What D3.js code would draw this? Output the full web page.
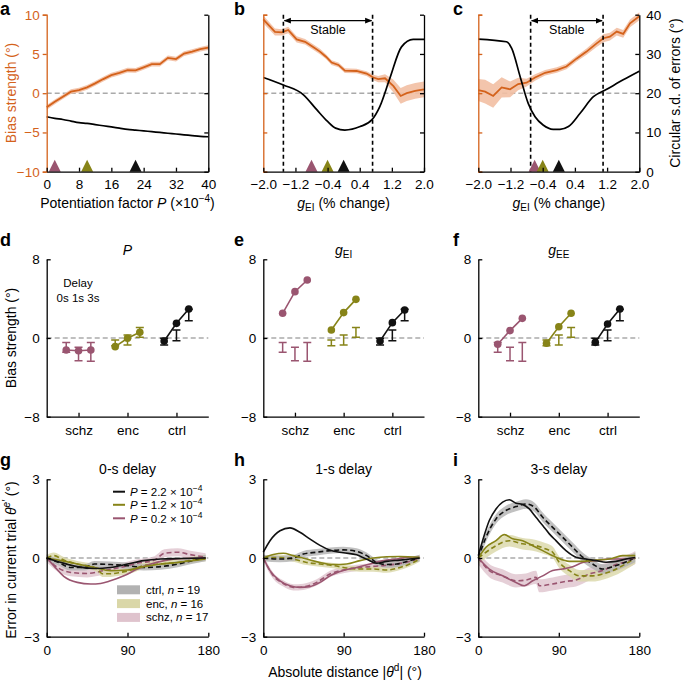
<!DOCTYPE html>
<html><head><meta charset="utf-8">
<script src="https://cdn.jsdelivr.net/npm/d3@7"></script>
<style>body{margin:0;background:#fff}svg{display:block}</style>
</head><body>
<svg id="fig" width="685" height="680"></svg>
<script>
// ================= DATA =================
// Panel a: bias strength & circular s.d. vs potentiation factor P (x10^-4)
const aP    = [0,2,4,6,8,10,12,14,16,18,20,22,24,26,28,30,32,34,36,38,40];
const aBias = [-1.8,-1.1,-0.45,0.2,0.4,0.75,1.25,1.8,2.3,2.6,2.95,2.9,3.3,3.7,3.7,4.5,4.35,5.05,5.3,5.6,5.8];
const aSem  = [0.3,0.3,0.3,0.3,0.3,0.3,0.3,0.3,0.3,0.3,0.3,0.3,0.3,0.3,0.3,0.3,0.3,0.3,0.3,0.3,0.3];
const aSd   = [14,13.6,13.3,12.9,12.5,12.3,12.0,11.7,11.4,11.1,10.8,10.6,10.4,10.2,10.0,9.8,9.6,9.4,9.2,9.0,8.9];
const aTri  = [2,10,22];
const aTicks = [0,8,16,24,32,40];

// Panel b: vs gEI (% change)
const bG    = [-2.0,-1.71,-1.54,-1.38,-1.17,-0.96,-0.76,-0.59,-0.44,-0.30,-0.13,0.03,0.32,0.57,0.74,0.86,1.03,1.24,1.42,1.57,1.78,2.0];
const bBias = [9.4,7.8,7.75,8.05,6.85,6.55,5.9,5.3,4.65,3.9,3.6,2.87,2.83,2.5,2.0,1.8,1.9,0.9,-0.35,0.0,0.3,0.5];
const bSem  = [0.5,0.45,0.4,0.4,0.4,0.35,0.35,0.35,0.3,0.3,0.3,0.3,0.3,0.3,0.35,0.4,0.5,0.8,1.0,1.0,1.0,1.0];
const bSdG  = [-2.0,-1.5,-1.0,-0.67,-0.4,-0.2,0.03,0.41,0.70,0.90,1.15,1.44,1.73,2.0];
const bSd   = [24,22.1,19.6,15.8,12.8,11.1,10.6,11.5,13.2,16.6,23.8,31.8,33.7,33.7];
const bTri  = [-0.8,-0.4,0];
const bStable = [-1.5,0.72];

// Panel c: vs gEI (% change)
const cG    = [-2.0,-1.83,-1.63,-1.42,-1.21,-1.01,-0.80,-0.59,-0.34,-0.05,0.19,0.44,0.69,0.94,1.11,1.27,1.44,1.60,1.77,2.0];
const cBias = [0.4,0.2,-0.35,0.74,0.5,1.17,1.34,2.0,2.6,2.95,3.4,4.4,5.3,6.35,7.0,7.2,7.85,7.55,8.9,9.8];
const cSem  = [1.4,1.5,1.5,1.3,1.0,0.8,0.5,0.4,0.35,0.35,0.35,0.35,0.4,0.45,0.5,0.5,0.5,0.5,0.5,0.5];
const cSdG  = [-2.0,-1.30,-1.17,-0.96,-0.76,-0.59,-0.39,-0.14,0.03,0.24,0.53,0.86,1.19,1.60,2.0];
const cSd   = [33.8,33.1,31.4,24.2,17.4,14,11.9,10.8,10.8,11.5,14.9,19.1,21,23.4,25.6];
const cTri  = [-0.6,-0.4,0];
const cStable = [-0.7,1.1];
const gTicks = [-2.0,-1.2,-0.4,0.4,1.2,2.0];

// Panels d-f: bias strength per group and delay
const groups = ["schz","enc","ctrl"];
const delays = ["0s","1s","3s"];
const dataLo = [[-1.46,-2.3,-2.37],[-0.8,-0.71,0.07],[-0.71,-0.27,1.76]];
const dataHi = [[-0.47,-0.95,-0.47],[-0.2,0.31,1.08],[-0.03,0.81,2.92]];
const modelP   = [[-1.22,-1.29,-1.22],[-0.88,-0.03,0.58],[-0.3,1.49,2.95]];
const modelGEI = [[2.51,4.71,5.9],[0.81,2.58,3.93],[-0.3,1.56,2.85]];
const modelGEE = [[-0.64,0.75,2.0],[-0.54,1.15,2.51],[-0.44,1.42,2.95]];

// Panels g-i: error in current trial vs absolute distance ([deg, error])
const g0CtrlModel = [[0,0],[16,-0.17],[34,-0.33],[53,-0.4],[71,-0.36],[90,-0.23],[108,-0.1],[127,-0.04],[150,-0.02],[177,0]];
const g0CtrlData  = [[0,0],[12,-0.15],[27,-0.36],[42,-0.36],[53,-0.23],[71,-0.25],[90,-0.29],[108,-0.36],[127,-0.33],[146,-0.23],[160,-0.12],[177,0]];
const g0EncModel  = [[0,0],[16,-0.1],[34,-0.23],[53,-0.36],[71,-0.48],[90,-0.46],[108,-0.33],[127,-0.23],[146,-0.17],[177,-0.04]];
const g0EncData   = [[0,0],[8,0.09],[19,-0.08],[34,-0.23],[53,-0.36],[58,-0.48],[62,-0.6],[71,-0.6],[82,-0.55],[94,-0.46],[108,-0.29],[123,-0.23],[146,-0.17],[160,-0.08],[177,0]];
const g0SchzModel = [[0,0],[8,-0.3],[19,-0.7],[34,-0.93],[49,-0.99],[60,-0.97],[71,-0.87],[86,-0.68],[101,-0.42],[116,-0.23],[131,-0.1],[153,-0.02],[177,0]];
const g0SchzData  = [[0,0],[12,-0.36],[27,-0.55],[45,-0.59],[64,-0.48],[82,-0.36],[101,-0.2],[120,-0.08],[131,0.18],[146,0.22],[160,0.13],[177,0.03]];
const g0Sem = [0.12,0.12,0.15];

const g1CtrlModel = [[0,0.22],[7.5,0.66],[18.7,1.04],[29.9,1.15],[41,0.98],[52,0.73],[63.5,0.48],[74.7,0.3],[89.6,0.2],[104.6,0.12],[115.8,-0.05],[127,-0.2],[138,-0.13],[153,-0.08],[164,-0.04],[175,0]];
const g1CtrlData  = [[0,0],[18.7,-0.04],[33.6,0],[44.8,0.15],[59.8,0.22],[74.7,0.28],[89.6,0.31],[104.6,0.25],[115.8,0.09],[127,-0.17],[138,-0.25],[149.4,-0.23],[160.5,-0.13],[175,0]];
const g1EncModel  = [[0,0],[11.2,0.13],[22.4,0.18],[33.6,0.09],[48.5,-0.04],[63.5,-0.17],[78.4,-0.25],[93.4,-0.23],[108.3,-0.1],[123.2,0],[138.2,0.05],[153.1,0.06],[175,0.03]];
const g1EncData   = [[0,0],[18.7,0.02],[33.6,-0.04],[48.5,-0.17],[63.5,-0.23],[78.4,-0.29],[93.4,-0.38],[108.3,-0.42],[123.2,-0.42],[138.2,-0.46],[153.1,-0.36],[168,-0.17],[175,-0.04]];
const g1SchzModel = [[0,0],[7.5,-0.48],[18.7,-0.87],[29.9,-1.06],[41,-1.12],[52,-1.09],[63.5,-0.93],[74.7,-0.68],[89.6,-0.48],[104.6,-0.36],[119.5,-0.23],[134.5,-0.1],[149.4,-0.04],[160.5,0.02],[175,0.02]];
const g1SchzData  = [[0,0],[11.2,-0.68],[22.4,-0.97],[33.6,-1.12],[44.8,-1.1],[59.8,-0.93],[74.7,-0.61],[89.6,-0.46],[104.6,-0.38],[119.5,-0.33],[134.5,-0.29],[149.4,-0.23],[160.5,-0.16],[175,0]];
const g1Sem = [0.12,0.1,0.12];

const g3CtrlModel = [[0,0.09],[4.8,0.66],[12.3,1.43],[19.8,1.87],[27.2,2.13],[34.7,2.22],[42.1,2.09],[49.6,2.04],[57,1.87],[64.5,1.55],[72,1.24],[79.4,0.92],[86.8,0.66],[98,0.28],[109.2,0.03],[120.4,-0.04],[131.6,-0.1],[142.8,-0.16],[153.9,-0.13],[165.1,-0.04],[175.5,0.02]];
const g3CtrlData  = [[0,0],[8.6,0.79],[19.8,1.49],[30.9,1.81],[42.1,1.96],[53.3,2.06],[62.6,1.94],[72,1.55],[83.1,1.17],[94.3,0.79],[105.5,0.41],[116.7,0.03],[127.8,-0.23],[139,-0.42],[150.2,-0.33],[161.4,-0.2],[175.5,0.02]];
const g3EncModel  = [[0,0],[8.6,0.41],[19.8,0.66],[29,0.89],[38.4,0.73],[49.6,0.66],[60.8,0.47],[72,0.28],[86.8,0.03],[101.8,-0.13],[116.7,-0.13],[131.6,-0.08],[146.5,-0.04],[161.4,0.09],[175.5,0.09]];
const g3EncData   = [[0,0],[8.6,0.22],[19.8,0.47],[34.7,0.66],[49.6,0.54],[64.5,0.47],[75.7,0.34],[83.1,0.22],[90.6,-0.17],[101.8,-0.48],[112.9,-0.68],[127.8,-0.68],[139,-0.61],[150.2,-0.48],[161.4,-0.29],[175.5,0]];
const g3SchzModel = [[0,0],[12.3,-0.42],[27.2,-0.68],[42.1,-0.93],[51.4,-1.06],[60.8,-0.87],[72,-0.68],[83.1,-0.48],[94.3,-0.42],[105.5,-0.33],[116.7,-0.17],[131.6,-0.1],[146.5,-0.04],[161.4,-0.04],[175.5,0]];
const g3SchzData  = [[0,0],[12.3,-0.48],[27.2,-0.68],[42.1,-0.87],[53.3,-0.84],[64.5,-0.74],[68.2,-1.06],[83.1,-0.99],[98,-0.89],[109.2,-0.84],[124.1,-0.61],[139,-0.48],[153.9,-0.25],[168.8,-0.1],[175.5,0.02]];
const g3Sem = [0.18,0.22,0.25];

const legendP = ["2.2","1.2","0.2"];
const legendN = [19,16,17];

// ================= STYLE / LAYOUT =================
const FONT = "'Liberation Sans', Arial, Helvetica, sans-serif";
const COL = {orange:"#d4621b", orangeBand:"#f2bfa3", pink:"#9a5570", olive:"#878418", black:"#111111", zero:"#aaaaaa"};
const GCOL = [COL.pink, COL.olive, COL.black];           // schz, enc, ctrl
const BCOL = ["#dfc3cd", "#dad7a8", "#b2b2b2"];
const cols = [[46.7,208.3],[263.3,424],[478.3,639.3]];
const rows = [[14.7,171.7],[259.3,416.7],[479.3,636.7]];
const FS = 13.5;

const svg = d3.select("#fig").attr("font-family", FONT);
svg.append("defs").append("marker").attr("id","arr").attr("viewBox","0 0 10 10")
  .attr("refX",9).attr("refY",5).attr("markerWidth",6).attr("markerHeight",6)
  .attr("orient","auto-start-reverse")
  .append("path").attr("d","M0,1 L10,5 L0,9 Z").attr("fill","#000");

function styleAxis(g, color) {
  g.attr("font-family", FONT).attr("font-size", FS);
  g.select(".domain").attr("stroke", color).attr("stroke-width", 1.3);
  g.selectAll(".tick line").attr("stroke", color).attr("stroke-width", 1.3);
  g.selectAll(".tick text").attr("fill", color);
}
function label(txt, x, y) {
  svg.append("text").attr("x", x).attr("y", y).attr("font-weight","bold").attr("font-size",18).text(txt);
}
function zeroLine(g, x0, x1, y0) {
  g.append("line").attr("x1",x0).attr("x2",x1).attr("y1",y0).attr("y2",y0)
    .attr("stroke",COL.zero).attr("stroke-width",1.5).attr("stroke-dasharray","5,3");
}

// ================= TOP ROW =================
function topPanel(ci, cfg) {
  const [x0,x1] = cols[ci], [yt,yb] = rows[0];
  const x = d3.scaleLinear().domain(cfg.dom).range([x0,x1]);
  const yL = d3.scaleLinear().domain([-10,10]).range([yb,yt]);
  const yR = d3.scaleLinear().domain([0,40]).range([yb,yt]);
  const g = svg.append("g");
  zeroLine(g, x0, x1, yL(0));
  const pts = cfg.ox.map((v,i)=>[v, cfg.oy[i], cfg.os[i]]);
  g.append("path").datum(pts)
    .attr("d", d3.area().x(d=>x(d[0])).y0(d=>yL(d[1]-d[2])).y1(d=>yL(d[1]+d[2])))
    .attr("fill", COL.orangeBand).attr("opacity",0.9);
  g.append("path").datum(pts)
    .attr("d", d3.line().x(d=>x(d[0])).y(d=>yL(d[1])))
    .attr("fill","none").attr("stroke",COL.orange).attr("stroke-width",1.8);
  const bp = cfg.bx.map((v,i)=>[v, cfg.by[i]]);
  g.append("path").datum(bp)
    .attr("d", d3.line().x(d=>x(d[0])).y(d=>yR(d[1])).curve(d3.curveMonotoneX))
    .attr("fill","none").attr("stroke","#000").attr("stroke-width",1.7);
  if (cfg.stable) {
    cfg.stable.forEach(v => g.append("line").attr("x1",x(v)).attr("x2",x(v)).attr("y1",yt).attr("y2",yb)
      .attr("stroke","#000").attr("stroke-width",1.6).attr("stroke-dasharray","4,3"));
    g.append("line").attr("x1",x(cfg.stable[0])+1).attr("x2",x(cfg.stable[1])-1).attr("y1",20.7).attr("y2",20.7)
      .attr("stroke","#000").attr("stroke-width",1.2)
      .attr("marker-start","url(#arr)").attr("marker-end","url(#arr)");
    g.append("text").attr("x",(x(cfg.stable[0])+x(cfg.stable[1]))/2).attr("y",33.5)
      .attr("text-anchor","middle").attr("font-size",12.5).text("Stable");
  }
  cfg.tri.forEach((v,i)=> g.append("path")
    .attr("d", `M${x(v)-6},${yb} L${x(v)+6},${yb} L${x(v)},${yb-12} Z`).attr("fill", GCOL[i]));
  // axes
  const axL = d3.axisLeft(yL).tickValues([-10,-5,0,5,10]).tickSizeOuter(0);
  if (ci===0) axL.tickSize(4).tickPadding(3); else axL.tickSize(-4).tickFormat("");
  styleAxis(g.append("g").attr("transform",`translate(${x0},0)`).call(axL), COL.orange);
  const axR = d3.axisRight(yR).tickValues([0,10,20,30,40]).tickSize(-4).tickSizeOuter(0).tickPadding(7);
  if (ci!==2) axR.tickFormat("");
  styleAxis(g.append("g").attr("transform",`translate(${x1},0)`).call(axR), "#000");
  const axB = d3.axisBottom(x).tickValues(cfg.ticks).tickSize(-4).tickSizeOuter(0).tickPadding(8).tickFormat(cfg.fmt);
  styleAxis(g.append("g").attr("transform",`translate(0,${yb})`).call(axB), "#000");
}
topPanel(0,{dom:[0,40], ox:aP, oy:aBias, os:aSem, bx:aP, by:aSd, tri:aTri, ticks:aTicks, fmt:d3.format("d")});
topPanel(1,{dom:[-2,2], ox:bG, oy:bBias, os:bSem, bx:bSdG, by:bSd, tri:bTri, ticks:gTicks, fmt:d3.format(".1f"), stable:bStable});
topPanel(2,{dom:[-2,2], ox:cG, oy:cBias, os:cSem, bx:cSdG, by:cSd, tri:cTri, ticks:gTicks, fmt:d3.format(".1f"), stable:cStable});

// top row titles
svg.append("text").attr("transform","translate(16,93) rotate(-90)").attr("text-anchor","middle")
  .attr("font-size",14).attr("fill",COL.orange).text("Bias strength (°)");
svg.append("text").attr("transform","translate(680,93) rotate(-90)").attr("text-anchor","middle")
  .attr("font-size",14).text("Circular s.d. of errors (°)");
{
  const t = svg.append("text").attr("x",(cols[0][0]+cols[0][1])/2).attr("y",208).attr("text-anchor","middle").attr("font-size",14);
  t.append("tspan").text("Potentiation factor ");
  t.append("tspan").attr("font-style","italic").text("P");
  t.append("tspan").text(" (×10");
  t.append("tspan").attr("font-size",10).attr("dy",-6).text("−4");
  t.append("tspan").attr("dy",6).text(")");
}
[1,2].forEach(ci=>{
  const t = svg.append("text").attr("x",(cols[ci][0]+cols[ci][1])/2).attr("y",208).attr("text-anchor","middle").attr("font-size",14);
  t.append("tspan").attr("font-style","italic").text("g");
  t.append("tspan").attr("font-size",10).attr("dy",3).text("EI");
  t.append("tspan").attr("dy",-3).text(" (% change)");
});

// ================= MIDDLE ROW =================
function midPanel(ci, model, titleFn) {
  const [x0,x1] = cols[ci], [yt,yb] = rows[1];
  const x = d3.scalePoint().domain(groups).range([x0,x1]).padding(0.65);
  const off = d3.scalePoint().domain(delays).range([-12.3,12.3]);
  const y = d3.scaleLinear().domain([-8,8]).range([yb,yt]);
  const g = svg.append("g");
  zeroLine(g, x0, x1, y(0));
  groups.forEach((grp,gi)=>{
    delays.forEach((dl,di)=>{
      const xx = x(grp)+off(dl);
      const lo = y(dataLo[gi][di]), hi = y(dataHi[gi][di]);
      g.append("path").attr("d",`M${xx},${lo} V${hi} M${xx-4},${lo} H${xx+4} M${xx-4},${hi} H${xx+4}`)
        .attr("stroke",GCOL[gi]).attr("stroke-width",1.5).attr("fill","none");
    });
    const pts = delays.map((dl,di)=>[x(grp)+off(dl), y(model[gi][di])]);
    g.append("path").attr("d", d3.line()(pts)).attr("stroke",GCOL[gi]).attr("stroke-width",1.6).attr("fill","none");
    pts.forEach(p=> g.append("circle").attr("cx",p[0]).attr("cy",p[1]).attr("r",3.8).attr("fill",GCOL[gi]));
  });
  const axL = d3.axisLeft(y).tickValues([-8,0,8]).tickSize(-4).tickSizeOuter(0).tickPadding(7).tickFormat(d3.format("d"));
  styleAxis(g.append("g").attr("transform",`translate(${x0},0)`).call(axL), "#000");
  const axB = d3.axisBottom(x).tickSize(-4).tickSizeOuter(0).tickPadding(9);
  styleAxis(g.append("g").attr("transform",`translate(0,${yb})`).call(axB), "#000");
  const t = g.append("text").attr("x",(x0+x1)/2).attr("y",255).attr("text-anchor","middle").attr("font-size",14);
  titleFn(t);
}
midPanel(0, modelP, t=>t.append("tspan").attr("font-style","italic").text("P"));
midPanel(1, modelGEI, t=>{ t.append("tspan").attr("font-style","italic").text("g"); t.append("tspan").attr("font-size",10).attr("dy",3).text("EI"); });
midPanel(2, modelGEE, t=>{ t.append("tspan").attr("font-style","italic").text("g"); t.append("tspan").attr("font-size",10).attr("dy",3).text("EE"); });
svg.append("text").attr("transform","translate(16,338) rotate(-90)").attr("text-anchor","middle")
  .attr("font-size",14).text("Bias strength (°)");
svg.append("text").attr("x",78).attr("y",287).attr("text-anchor","middle").attr("font-size",11.5).text("Delay");
svg.append("text").attr("x",78).attr("y",301.5).attr("text-anchor","middle").attr("font-size",11.5).text("0s  1s  3s");

// ================= BOTTOM ROW =================
const bottomSets = [
  {title:"0-s delay", model:[g0SchzModel,g0EncModel,g0CtrlModel], data:[g0SchzData,g0EncData,g0CtrlData], sem:[g0Sem[2],g0Sem[1],g0Sem[0]]},
  {title:"1-s delay", model:[g1SchzModel,g1EncModel,g1CtrlModel], data:[g1SchzData,g1EncData,g1CtrlData], sem:[g1Sem[2],g1Sem[1],g1Sem[0]]},
  {title:"3-s delay", model:[g3SchzModel,g3EncModel,g3CtrlModel], data:[g3SchzData,g3EncData,g3CtrlData], sem:[g3Sem[2],g3Sem[1],g3Sem[0]]}
];
function botPanel(ci, set) {
  const [x0,x1] = cols[ci], [yt,yb] = rows[2];
  const x = d3.scaleLinear().domain([0,180]).range([x0,x1]);
  const y = d3.scaleLinear().domain([-3,3]).range([yb,yt]);
  const g = svg.append("g");
  zeroLine(g, x0, x1, y(0));
  const order = [0,1,2];
  order.forEach(i=>{
    const s = set.sem[i];
    g.append("path").datum(set.data[i])
      .attr("d", d3.area().x(d=>x(d[0])).y0(d=>y(d[1]-s)).y1(d=>y(d[1]+s)).curve(d3.curveMonotoneX))
      .attr("fill", BCOL[i]).attr("opacity",0.8);
  });
  order.forEach(i=>{
    g.append("path").datum(set.data[i])
      .attr("d", d3.line().x(d=>x(d[0])).y(d=>y(d[1])).curve(d3.curveMonotoneX))
      .attr("fill","none").attr("stroke",GCOL[i]).attr("stroke-width",1.6).attr("stroke-dasharray","5,3");
  });
  order.forEach(i=>{
    g.append("path").datum(set.model[i])
      .attr("d", d3.line().x(d=>x(d[0])).y(d=>y(d[1])).curve(d3.curveMonotoneX))
      .attr("fill","none").attr("stroke",GCOL[i]).attr("stroke-width",1.6);
  });
  const axL = d3.axisLeft(y).tickValues([-3,0,3]).tickSize(-4).tickSizeOuter(0).tickPadding(7).tickFormat(d3.format("d"));
  styleAxis(g.append("g").attr("transform",`translate(${x0},0)`).call(axL), "#000");
  const axB = d3.axisBottom(x).tickValues([0,90,180]).tickSize(-4).tickSizeOuter(0).tickPadding(9).tickFormat(d3.format("d"));
  styleAxis(g.append("g").attr("transform",`translate(0,${yb})`).call(axB), "#000");
  g.append("text").attr("x",(x0+x1)/2).attr("y",473.5).attr("text-anchor","middle").attr("font-size",14).text(set.title);
}
bottomSets.forEach((s,i)=>botPanel(i,s));

// legend (panel g)
{
  const lc = [COL.black, COL.olive, COL.pink];
  const ly = [491.7, 504.8, 518.3];
  legendP.forEach((p,i)=>{
    svg.append("line").attr("x1",113).attr("x2",125).attr("y1",ly[i]).attr("y2",ly[i]).attr("stroke",lc[i]).attr("stroke-width",2);
    const t = svg.append("text").attr("x",130).attr("y",ly[i]+4.2).attr("font-size",11.5);
    t.append("tspan").attr("font-style","italic").text("P");
    t.append("tspan").text(` = ${p} × 10`);
    t.append("tspan").attr("font-size",8.5).attr("dy",-5).text("−4");
  });
  const bc = [BCOL[2], BCOL[1], BCOL[0]];
  const bn = ["ctrl","enc","schz"];
  const by = [589.8, 603.6, 617.4];
  bn.forEach((n,i)=>{
    svg.append("rect").attr("x",117).attr("y",by[i]-4.5).attr("width",23).attr("height",9).attr("fill",bc[i]);
    const t = svg.append("text").attr("x",146).attr("y",by[i]+4).attr("font-size",11.5);
    t.append("tspan").text(`${n}, `);
    t.append("tspan").attr("font-style","italic").text("n");
    t.append("tspan").text(` = ${legendN[i]}`);
  });
}
{
  const t = svg.append("text").attr("transform","translate(16,560) rotate(-90)").attr("text-anchor","middle").attr("font-size",14);
  t.append("tspan").text("Error in current trial ");
  t.append("tspan").attr("font-style","italic").text("θ");
  t.append("tspan").attr("font-style","italic").attr("font-size",10).attr("dy",-6).text("e′");
  t.append("tspan").attr("dy",6).text(" (°)");
}
{
  const t = svg.append("text").attr("x",345).attr("y",676.5).attr("text-anchor","middle").attr("font-size",14);
  t.append("tspan").text("Absolute distance |");
  t.append("tspan").attr("font-style","italic").text("θ");
  t.append("tspan").attr("font-size",10).attr("dy",-6).text("d");
  t.append("tspan").attr("dy",6).text("| (°)");
}

// panel letters
[["a",0,15],["b",234,15],["c",453,15],["d",0,246],["e",234,246],["f",453,246],["g",0,466],["h",234,466],["i",453,466]]
  .forEach(l=>label(l[0],l[1],l[2]));
</script>
</body></html>
